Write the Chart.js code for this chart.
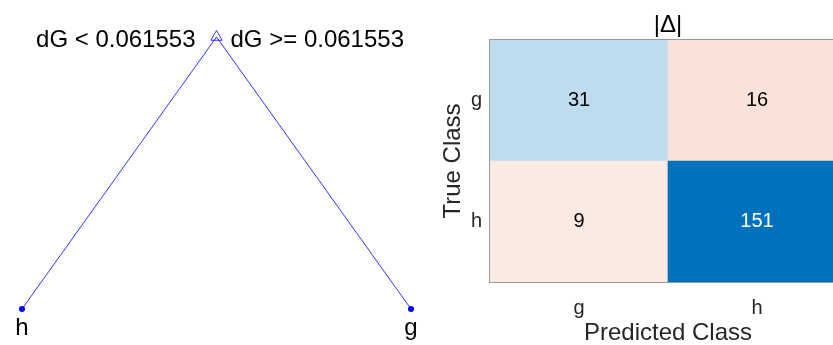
<!DOCTYPE html>
<html>
<head>
<meta charset="utf-8">
<script src="https://cdn.jsdelivr.net/npm/chart.js@4.4.1/dist/chart.umd.min.js"></script>
<style>
  html, body { margin: 0; padding: 0; background: #fff; overflow: hidden; }
  #wrap { position: relative; width: 833px; height: 345px; overflow: hidden; }
  #tree { position: absolute; left: 0; top: 0; }
  #conf { position: absolute; left: 430px; top: 0; }
</style>
</head>
<body>
<div id="wrap">
  <canvas id="tree" width="440" height="345"></canvas>
  <canvas id="conf" width="430" height="345"></canvas>
</div>
<script>
// tree data
const rootNode = { x: 0.5, y: 1 };
const leafX = [0, 1];
const leafY = [0, 0];
const leafLabels = ['h', 'g'];
const splitLabels = ['dG < 0.061553', 'dG >= 0.061553'];

// confusion matrix data
const predictedClasses = ['g', 'h'];
const trueClasses = ['g', 'h'];
const countsTrueG = [31, 16];
const countsTrueH = [9, 151];
const colorsTrueG = ['#bfdcee', '#f9e2da'];
const colorsTrueH = ['#fbeae3', '#0072bd'];
const matrixTitle = '|\u0394|';

const FONT = "'Liberation Sans', Arial, sans-serif";
const BLUE = '#0000ff';

const leafPoints = leafX.map((x, i) => ({ x: x, y: leafY[i] }));

const treeText = {
    id: 'treeText',
    afterDatasetsDraw(chart) {
        const { ctx, scales } = chart;
        const rx = scales.x.getPixelForValue(rootNode.x);
        const ry = scales.y.getPixelForValue(rootNode.y);
        ctx.save();
        ctx.fillStyle = '#000';
        ctx.font = '24px ' + FONT;
        ctx.textBaseline = 'alphabetic';
        ctx.textAlign = 'right';
        ctx.fillText(splitLabels[0], rx - 21, ry + 10);
        ctx.textAlign = 'left';
        ctx.fillText(splitLabels[1], rx + 14, ry + 10);
        ctx.textAlign = 'center';
        leafPoints.forEach((p, i) => {
            ctx.fillText(leafLabels[i], scales.x.getPixelForValue(p.x), scales.y.getPixelForValue(p.y) + 26);
        });
        ctx.restore();
    }
};

new Chart(document.getElementById('tree'), {
    type: 'scatter',
    data: {
        datasets: [
            ...leafPoints.map(p => ({
                data: [rootNode, p],
                showLine: true,
                borderColor: BLUE,
                borderWidth: 0.8,
                pointRadius: 0,
                clip: false
            })),
            {
                data: leafPoints,
                pointRadius: 3,
                pointBackgroundColor: BLUE,
                pointBorderColor: BLUE,
                pointBorderWidth: 0,
                clip: false
            },
            {
                data: [rootNode],
                pointStyle: 'triangle',
                pointRadius: 6.5,
                pointBackgroundColor: 'rgba(0,0,0,0)',
                pointBorderColor: BLUE,
                pointBorderWidth: 0.8,
                clip: false
            }
        ]
    },
    options: {
        responsive: false,
        animation: false,
        layout: { padding: { left: 22, right: 29, top: 37, bottom: 36 } },
        plugins: { legend: { display: false }, tooltip: { enabled: false } },
        scales: {
            x: { display: false, min: 0, max: 1 },
            y: { display: false, min: 0, max: 1 }
        }
    },
    plugins: [treeText]
});

const matrixText = {
    id: 'matrixText',
    afterDatasetsDraw(chart) {
        const { ctx, chartArea } = chart;
        ctx.save();
        ctx.font = '20px ' + FONT;
        ctx.textAlign = 'center';
        ctx.textBaseline = 'middle';
        chart.data.datasets.forEach((ds, di) => {
            chart.getDatasetMeta(di).data.forEach((bar, i) => {
                const v = ds.counts[i];
                ctx.fillStyle = v > 100 ? '#fff' : '#000';
                ctx.fillText(String(v), bar.x, (bar.y + bar.base) / 2);
            });
        });
        ctx.strokeStyle = '#999';
        ctx.lineWidth = 1;
        ctx.strokeRect(chartArea.left - 0.5, chartArea.top - 0.5, chartArea.right - chartArea.left + 1, chartArea.bottom - chartArea.top + 1);
        ctx.fillStyle = '#000';
        ctx.font = '24px ' + FONT;
        ctx.fillText(matrixTitle, (chartArea.left + chartArea.right) / 2, 25);
        ctx.restore();
    }
};

new Chart(document.getElementById('conf'), {
    type: 'bar',
    data: {
        labels: predictedClasses,
        datasets: [
            { data: countsTrueH.map(() => 1), counts: countsTrueH, backgroundColor: colorsTrueH },
            { data: countsTrueG.map(() => 1), counts: countsTrueG, backgroundColor: colorsTrueG }
        ]
    },
    options: {
        responsive: false,
        animation: false,
        layout: { padding: { left: 0, right: 14, top: 40, bottom: 0 } },
        plugins: { legend: { display: false }, tooltip: { enabled: false } },
        datasets: { bar: { barPercentage: 1, categoryPercentage: 1, borderWidth: 0 } },
        scales: {
            x: {
                stacked: true,
                grid: { display: false, drawTicks: false },
                border: { display: false },
                ticks: { font: { size: 20, family: FONT }, color: '#262626', padding: 14 },
                title: {
                    display: true, text: 'Predicted Class', color: '#262626',
                    font: { size: 24, family: FONT, lineHeight: 1 },
                    padding: { top: 0, bottom: 0 }
                },
                afterFit(scale) { scale.height = 63; }
            },
            y: {
                stacked: true,
                min: 0,
                max: 2,
                grid: { display: false, drawTicks: false },
                border: { display: false },
                afterBuildTicks(scale) { scale.ticks = [{ value: 0.5 }, { value: 1.5 }]; },
                ticks: {
                    font: { size: 20, family: FONT }, color: '#262626', padding: 8,
                    callback: v => trueClasses[v > 1 ? 0 : 1]
                },
                title: {
                    display: true, text: 'True Class', color: '#262626',
                    font: { size: 24, family: FONT, lineHeight: 1 },
                    padding: { top: 11, bottom: 0 }
                },
                afterFit(scale) { scale.width = 60; }
            }
        }
    },
    plugins: [matrixText]
});
</script>
</body>
</html>
